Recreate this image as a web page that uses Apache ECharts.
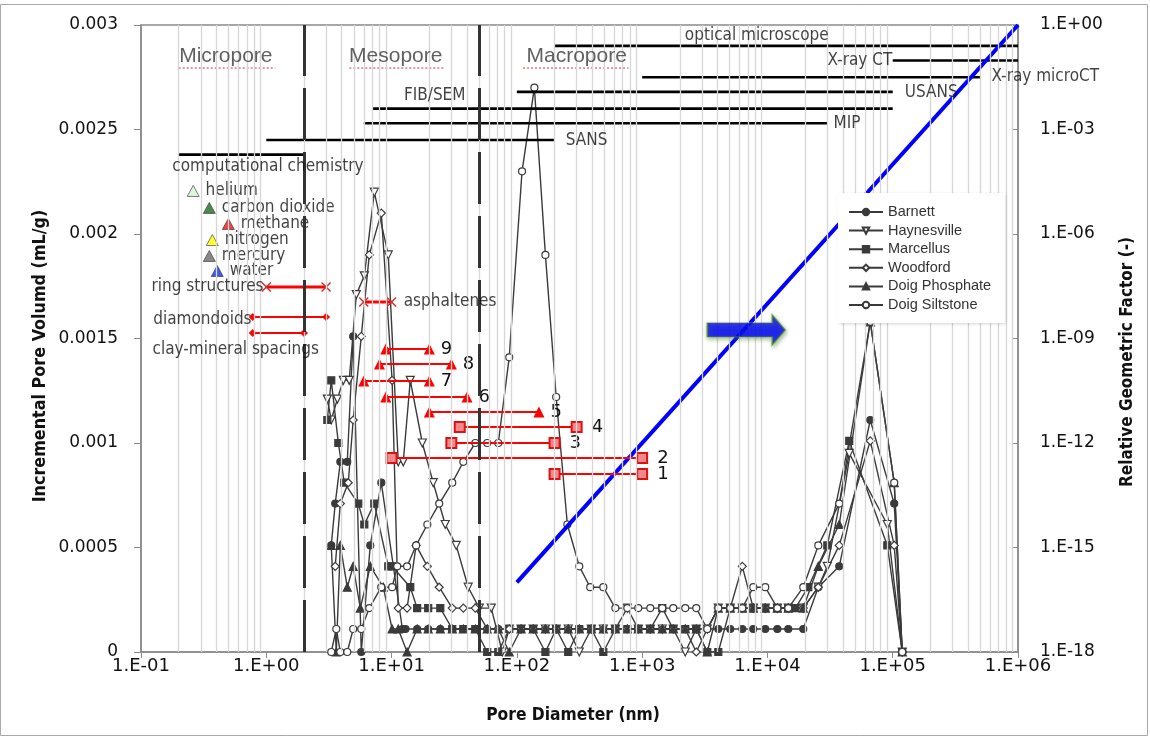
<!DOCTYPE html>
<html><head><meta charset="utf-8">
<script src="https://cdn.jsdelivr.net/npm/echarts@6/dist/echarts.min.js"></script>
<style>html,body{margin:0;padding:0;background:#fff}#c{width:1150px;height:738px}</style>
</head><body><div id="c"></div>
<script>
// ---------------- DATA (pore diameter in nm, incremental pore volume in mL/g) ----------------
const seriesNames = ['Barnett','Haynesville','Marcellus','Woodford','Doig Phosphate','Doig Siltstone'];

const barnett = [[3.30,0.00051],[3.55,0.00071],[3.90,0.00091],[4.43,0.00091],[4.94,0.00151],[5.73,0],[6.76,0.00051],[8.28,0.00081],[12.2,0.00011],[12.9,0.00011],[16.0,0.00011],
 [19.6,0.00011],[24.5,0.00011],[30.5,0.00011],[37.4,0.00011],[46.6,0.00011],[58.0,0.00011],[71.1,0.00011],[86.9,0.00011],[108,0.00011],[135,0.00011],[169,0.00011],[206,0.00011],[257,0.00011],[315,0.00011],[393,0.00011],[490,0.00011],[611,0.00011],[761,0.00011],[931,0.00011],[1161,0.00011],[1448,0.00011],[1771,0.00011],[2209,0.00011],[2704,0.00011],[3311,0.00011],[4053,0.00011],[5050,0.00011],[6300,0.00011],[7710,0.00011],[9610,0.00011],[12000,0.00011],[14670,0.00011],[19320,0.00011],[25470,0.00031],[37430,0.00041],[66200,0.00111],[102800,0.00071],[119100,0]];

const haynesville = [[3.07,0.00121],[3.30,0.00111],[3.69,0.00121],[4.12,0.0013],[4.59,0.0013],[5.23,0.00171],[6.06,0.0018],[7.28,0.0022],[9.41,0.0019],[11.3,0.00091],[12.4,0.00091],[14.1,0.0013],[17.6,0.001],[21.5,0.00081],[26.8,0.00061],[32.8,0.00051],[40.9,0.00031],[50.1,0.00021],[62.5,0.00021],[76.5,0],[86.9,0.00011],[108,0.00011],[135,0.00011],[169,0.00011],[206,0.00011],[257,0.00011],[315,0],[393,0.00011],[490,0.00011],[611,0.00011],[761,0.00021],[931,0.00011],[1161,0.00011],[1448,0.00011],[1771,0.00011],[2209,0],[2704,0.00011],[3311,0.00011],[4053,0.00021],[5050,0.00021],[6300,0.00021],[7710,0.00021],[9610,0.00021],[12000,0.00021],[14670,0.00021],[19320,0.00021],[25470,0.00031],[30060,0.00041],[44980,0.00095],[90540,0.00061],[119100,0]];

const marcellus = [[3.07,0.00111],[3.30,0.0013],[3.76,0.001],[4.19,0.00081],[5.42,0.00071],[6.06,0.00061],[7.28,0.00071],[9.41,0.00041],[10.1,0.00041],[14.1,0.00031],[16.0,0.00021],[19.6,0.00021],[24.5,0.00021],[30.5,0.00011],[37.4,0.00011],[46.6,0.00011],[58.0,0],[71.1,0],[86.9,0.00011],[108,0.00011],[135,0.00011],[169,0],[206,0.00011],[257,0],[315,0.00011],[393,0.00011],[490,0],[611,0.00011],[761,0.00011],[931,0.00011],[1161,0.00011],[1448,0.00021],[1771,0.00011],[2209,0.00011],[2704,0.00011],[3311,0],[4053,0],[5050,0.00021],[6300,0.00021],[7710,0.00021],[9610,0.00021],[12000,0.00021],[14670,0.00021],[16690,0.00021],[21180,0.00031],[30060,0.00051],[44980,0.00101],[90540,0.00051],[119100,0]];

const woodford = [[3.55,0.00041],[3.90,0.00071],[4.51,0.00081],[4.94,0.00111],[5.73,0.00151],[6.64,0.0019],[8.28,0.0021],[10.1,0.0013],[11.3,0.00021],[13.3,0.00021],[15.7,0.00051],[19.3,0.00041],[24.0,0.00031],[30.5,0.00021],[37.4,0.00021],[46.6,0.00021],[58.0,0.00011],[71.1,0.00011],[86.9,0.00011],[108,0.00011],[135,0.00011],[169,0.00011],[206,0.00011],[257,0.00011],[315,0.00011],[393,0.00011],[490,0.00011],[611,0.00011],[761,0.00011],[931,0.00011],[1161,0.00011],[1448,0.00011],[1771,0.00011],[2209,0.00011],[2704,0],[3311,0.00011],[4053,0.00021],[5050,0.00021],[6300,0.00041],[7710,0.00021],[9610,0.00021],[12000,0.00021],[14670,0.00021],[19320,0.00021],[25470,0.00031],[37430,0.00051],[66200,0.00101],[102800,0.00051],[119100,0]];

const doigPhosphate = [[3.30,0.00051],[3.62,0],[3.90,0.00051],[4.43,0.00031],[4.94,0.00041],[5.63,0.00021],[6.76,0.00041],[8.59,0.00031],[10.1,0.00011],[11.3,0.00011],[13.3,0],[16.0,0.00011],[19.6,0.00011],[24.5,0.00011],[30.5,0.00011],[37.4,0.00011],[46.6,0.00011],[58.0,0.00011],[71.1,0.00011],[86.9,0],[108,0.00011],[135,0.00011],[169,0.00011],[206,0.00011],[257,0.00011],[315,0.00011],[393,0.00011],[490,0.00011],[611,0.00011],[761,0.00011],[931,0.00011],[1161,0.00011],[1448,0.00011],[1771,0.00011],[2209,0.00011],[2704,0.00011],[3311,0],[4053,0.00021],[5050,0.00021],[6300,0.00021],[7710,0.00021],[9610,0.00021],[12000,0.00021],[14670,0.00021],[19320,0.00021],[25470,0.00041],[37430,0.00061],[66200,0.00158],[102800,0.00081],[119100,0]];

const doigSiltstone = [[3.30,0],[3.62,0.00011],[3.90,0],[4.43,0],[4.94,0.00011],[5.73,0.00011],[6.64,0.00021],[8.28,0.00031],[10.1,0.00031],[11.1,0.00041],[13.3,0.00041],[15.7,0.00051],[19.3,0.00061],[24.0,0.00071],[30.5,0.00081],[37.4,0.00091],[46.6,0.001],[58.0,0.001],[71.1,0.001],[86.9,0.00141],[110,0.0023],[138,0.0027],[169,0.0019],[206,0.00122],[253,0.00061],[315,0.00041],[385,0.00031],[490,0.00031],[611,0.00021],[761,0.00021],[931,0.00021],[1161,0.00021],[1448,0.00021],[1771,0.00021],[2209,0.00021],[2704,0.00021],[3311,0.00011],[4053,0.00021],[5050,0.00021],[6300,0.00021],[7710,0.00031],[9610,0.00031],[12000,0.00021],[14670,0.00021],[19320,0.00031],[25470,0.00051],[37430,0.00071],[66200,0.00158],[102800,0.00081],[119100,0]];

// Relative geometric factor (log10 value) of the blue line, at two pore diameters (nm)
const blueLine = [[100,-16],[1000000,0]];

// Technique ranges: [label, from nm, to nm, y level]
const techniques = [
 ['optical microscope',200,1e6,0.0029],
 ['X-ray CT',1e5,1e6,0.00283],
 ['X-ray microCT',1000,5e5,0.00275],
 ['USANS',100,1e5,0.00268],
 ['FIB/SEM',7,1e5,0.0026],
 ['MIP',6,3e4,0.00253],
 ['SANS',1,200,0.00245],
 ['computational chemistry',0.2,2,0.00238]
];
// Molecules: [name, kinetic diameter nm, y level, color]
const gases = [
 ['helium',0.261,0.002206,'#d4f5d4'],
 ['carbon dioxide',0.351,0.002125,'#1d6b1d'],
 ['methane',0.498,0.002048,'#ee1111'],
 ['nitrogen',0.371,0.001971,'#ffff00'],
 ['mercury',0.351,0.001895,'#6b6b6b'],
 ['water',0.406,0.001823,'#1030e0']
];
// Red size ranges: [label, from, to, y, marker]
const redRanges = [
 ['ring structures',1,3,0.001746,'x'],
 ['diamondoids',0.78,3,0.001603,'d'],
 ['clay-mineral spacings',0.78,2,0.001526,'d'],
 ['asphaltenes',6,10,0.001675,'x']
];
const numberedRanges = [
 ['9',9,20,0.00145,'t'],['8',8,30,0.001378,'t'],['7',6,20,0.001297,'t'],['6',9,40,0.00122,'t'],['5',20,150,0.001148,'t'],
 ['4',35,300,0.001077,'s'],['3',30,200,0.001,'s'],['2',10,1000,0.000928,'s'],['1',200,1000,0.000852,'s']
];
// Pore-class boundaries (nm)
const boundaries = [2,50];
// Text annotations: [text, x nm, y, align, style]
const annotations = [
 ['Micropore',0.48,0.002847,'center','pore'],
 ['Mesopore',10.9,0.002847,'center','pore'],
 ['Macropore',303,0.002847,'center','pore'],
 ['optical microscope',8300,0.002948,'center','s'],
 ['X-ray CT',1e5,0.002828,'right','s'],
 ['X-ray microCT',6.2e5,0.00275,'left','s'],
 ['USANS',1.26e5,0.002675,'left','s'],
 ['FIB/SEM',22.3,0.00266,'center','s'],
 ['MIP',3.4e4,0.002526,'left','s'],
 ['SANS',248,0.002445,'left','s'],
 ['computational chemistry',1.04,0.00232,'center','s'],
 ['ring structures',0.96,0.001746,'right','s'],
 ['diamondoids',0.77,0.001589,'right','s'],
 ['clay-mineral spacings',0.576,0.001445,'center','s'],
 ['asphaltenes',12.6,0.001675,'left','s']
];
// spell-check underline spans under the pore-class words [from nm, to nm]
const underlines = [[0.2,1.18],[4.6,26.8],[112,778]];
const underlineY = 0.002794;
// blue arrow position [nm, y]
const arrowPos = [6780,0.001541];

// ---------------- CHART ----------------
const chart = echarts.init(document.getElementById('c'));
const SMALLFONT = "'DejaVu Sans Condensed','DejaVu Sans',sans-serif";
const TITLEFONT = "'Liberation Sans Narrow','DejaVu Sans Condensed',sans-serif";
const DARK = '#3a3a3a';

function sci(v){const e=Math.round(Math.log10(v));return '1.E'+(e<0?'-':'+')+String(Math.abs(e)).padStart(2,'0');}
function sciExp(e){e=Math.round(e);return '1.E'+(e<0?'-':'+')+String(Math.abs(e)).padStart(2,'0');}

const minorVals=[];
for(let k=-1;k<=5;k++)for(let m=2;m<=9;m++)minorVals.push(+(m*Math.pow(10,k)).toPrecision(3));

const series=[];
// gridlines
series.push({type:'line',data:[],silent:true,z:0,markLine:{silent:true,symbol:['none','none'],label:{show:false},animation:false,
  lineStyle:{color:'#d6d6d6',width:1.3,type:'solid'},data:minorVals.map(v=>({xAxis:v}))}});
series.push({type:'line',data:[],silent:true,z:1,markLine:{silent:true,symbol:['none','none'],label:{show:false},animation:false,
  lineStyle:{color:'#333',width:3,type:[52,12]},data:boundaries.map(v=>({xAxis:v}))}});

const mk = {
 'Barnett':{symbol:'circle',size:7,fill:DARK},
 'Haynesville':{symbol:'path://M0,0L10,0L5,9Z',size:8,fill:'#fff'},
 'Marcellus':{symbol:'rect',size:7,fill:DARK},
 'Woodford':{symbol:'diamond',size:8,fill:'#fff'},
 'Doig Phosphate':{symbol:'triangle',size:8,fill:DARK},
 'Doig Siltstone':{symbol:'circle',size:7,fill:'#fff'}
};
const dataMap={'Barnett':barnett,'Haynesville':haynesville,'Marcellus':marcellus,'Woodford':woodford,'Doig Phosphate':doigPhosphate,'Doig Siltstone':doigSiltstone};
seriesNames.forEach(n=>{
 series.push({name:n,type:'line',data:dataMap[n],z:2,symbol:mk[n].symbol,symbolSize:mk[n].size,showAllSymbol:true,
  lineStyle:{color:DARK,width:1.4},itemStyle:{color:mk[n].fill,borderColor:DARK,borderWidth:1.2},color:DARK});
});

techniques.forEach(t=>{
 series.push({type:'line',silent:true,z:3,symbol:'none',data:[[t[1],t[3]],[t[2],t[3]]],lineStyle:{color:'#000',width:2.6}});
});
underlines.forEach(u=>{
 series.push({type:'line',silent:true,z:3,symbol:'none',data:[[u[0],underlineY],[u[1],underlineY]],lineStyle:{color:'#e06060',width:1.3,type:[2,2]}});
});

const XPATH='path://M0,1L1,0L5,4L9,0L10,1L6,5L10,9L9,10L5,6L1,10L0,9L4,5Z';
redRanges.forEach(r=>{
 const isX=r[4]==='x';
 series.push({type:'line',silent:true,z:4,data:[[r[1],r[3]],[r[2],r[3]]],symbol:isX?XPATH:'diamond',symbolSize:isX?10:8,
   lineStyle:{color:'#ff0000',width:isX?3:2},itemStyle:{color:isX?'#c83030':'#ff0000'}});
});
numberedRanges.forEach(r=>{
 const tri=r[4]==='t';
 series.push({type:'line',silent:true,z:4,symbol:tri?'triangle':'rect',symbolSize:tri?11:10,
  data:[[r[1],r[3]],{value:[r[2],r[3]],label:{show:true,formatter:r[0],position:'right',distance:tri?6:9,fontFamily:'DejaVu Sans',fontSize:18,color:'#111'}}],
  lineStyle:{color:'#ff0000',width:2},itemStyle:tri?{color:'#ff0000'}:{color:'#f08a8a',borderColor:'#dd1111',borderWidth:2}});
});

series.push({type:'scatter',silent:true,z:4,symbol:'triangle',symbolSize:[12,11],
 data:gases.map(g=>({name:g[0],value:[g[1],g[2]],itemStyle:{color:g[3],borderColor:'#333',borderWidth:0.8}})),
 label:{show:true,formatter:'{b}',position:'right',distance:6,fontFamily:SMALLFONT,fontSize:17,color:'#111'}});

series.push({type:'line',yAxisIndex:1,silent:true,z:3,symbol:'none',data:blueLine,lineStyle:{color:'#0000ff',width:4}});

series.push({type:'scatter',silent:true,z:6,symbol:'path://M0,8L65,8L65,0L78,15L65,30L65,22L0,22Z',symbolSize:[78,30],
 data:[arrowPos],itemStyle:{color:'#0000ff',borderColor:'#5a8f2a',borderWidth:1,shadowBlur:4,shadowColor:'rgba(60,120,30,0.6)',shadowOffsetX:1,shadowOffsetY:2}});

series.push({type:'scatter',silent:true,z:5,symbolSize:1,itemStyle:{color:'rgba(0,0,0,0)'},
 data:annotations.map(a=>({name:a[0],value:[a[1],a[2]],label:{align:a[3],
   fontFamily:a[4]==='pore'?"'Liberation Sans',Arial,sans-serif":SMALLFONT,fontSize:a[4]==='pore'?21:17,color:a[4]==='pore'?'#383838':'#111'}})),
 label:{show:true,formatter:'{b}',position:[0,0],verticalAlign:'middle'}});

const option={
 animation:false,
 backgroundColor:'#fff',
 grid:{left:141,right:132,top:25,bottom:86,show:true,borderColor:'#8a8a8a',borderWidth:1.5,backgroundColor:'transparent'},
 legend:{data:seriesNames,orient:'vertical',left:838,top:193,padding:[11,14,10,10],itemWidth:34,itemHeight:8,itemGap:2.6,
  backgroundColor:'#fff',z:10,selectedMode:false,shadowBlur:3,shadowColor:'rgba(0,0,0,0.18)',shadowOffsetX:1,shadowOffsetY:1,
  textStyle:{fontFamily:"'Liberation Sans',Arial,sans-serif",fontSize:14.5,color:'#333',lineHeight:16}},
 xAxis:{type:'log',logBase:10,min:0.1,max:1e6,
  axisLine:{lineStyle:{color:'#8a8a8a',width:1.5}},axisTick:{show:true,length:6,lineStyle:{color:'#8a8a8a'}},
  axisLabel:{formatter:sci,fontFamily:'DejaVu Sans',fontSize:18,color:'#111',margin:5},splitLine:{show:false}},
 yAxis:[
  {type:'value',min:0,max:0.003,interval:0.0005,axisLine:{show:true,lineStyle:{color:'#8a8a8a',width:1.5}},
   axisTick:{show:true,length:7,lineStyle:{color:'#8a8a8a'}},splitLine:{show:false},
   axisLabel:{fontFamily:'DejaVu Sans',fontSize:17,color:'#111',margin:23,formatter:v=>v===0?'0':String(+v.toPrecision(2))}},
  {type:'value',position:'right',min:-18,max:0,interval:3,axisLine:{show:true,lineStyle:{color:'#8a8a8a',width:1.5}},
   axisTick:{show:true,inside:true,length:6,lineStyle:{color:'#8a8a8a'}},splitLine:{show:false},
   axisLabel:{formatter:sciExp,fontFamily:'DejaVu Sans',fontSize:17,color:'#111',margin:22}}
 ],
 graphic:[
  {type:'rect',shape:{x:0.5,y:4.5,width:1147,height:731},style:{fill:'none',stroke:'#a8a8a8',lineWidth:1},silent:true,z:-1},
  {type:'text',x:573,y:716,style:{text:'Pore Diameter (nm)',font:"bold 17.3px "+TITLEFONT,fill:'#111',textAlign:'center',textVerticalAlign:'middle'},silent:true},
  {type:'text',x:40,y:356,rotation:Math.PI/2,style:{text:'Incremental Pore Volumd (mL/g)',font:"bold 17.8px "+TITLEFONT,fill:'#111',textAlign:'center',textVerticalAlign:'middle'},silent:true},
  {type:'text',x:1128,y:362,rotation:Math.PI/2,style:{text:'Relative Geometric Factor (-)',font:"bold 17px "+TITLEFONT,fill:'#111',textAlign:'center',textVerticalAlign:'middle'},silent:true}
 ],
 series:series
};
chart.setOption(option);
</script></body></html>
